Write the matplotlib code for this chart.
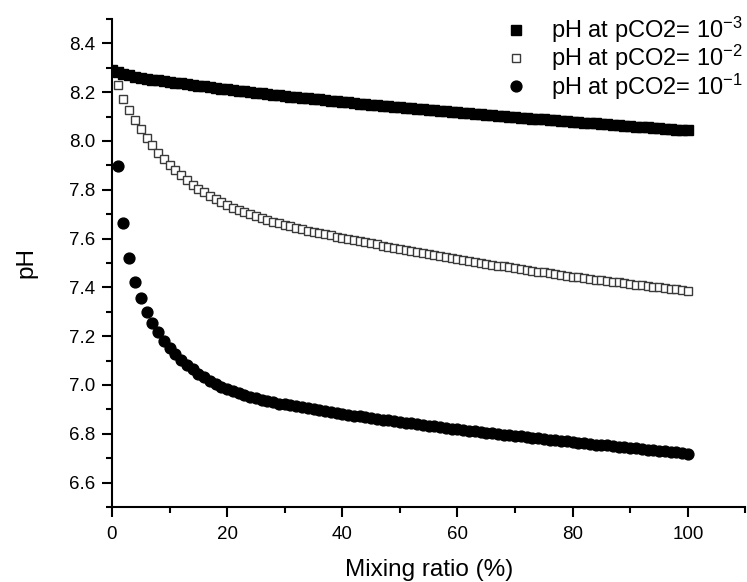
import numpy as np
import matplotlib.pyplot as plt

plt.rcParams['font.family'] = ['Liberation Sans', 'DejaVu Sans']
plt.rcParams['mathtext.fontset'] = 'custom'
plt.rcParams['mathtext.rm'] = 'Liberation Sans'
plt.rcParams['mathtext.it'] = 'Liberation Sans:italic'
plt.rcParams['mathtext.bf'] = 'Liberation Sans:bold'

# Mixing ratio (%) : 0..100 by step of 1
ratio = np.arange(0, 101)

# pH at pCO2 = 1e-3  (0..100)
ph_1e3 = [8.292, 8.282, 8.275, 8.269, 8.264, 8.259, 8.255, 8.251, 8.248, 8.245, 8.242,
          8.239, 8.236, 8.233, 8.230, 8.227, 8.224, 8.221, 8.218, 8.215, 8.212,
          8.209, 8.206, 8.204, 8.201, 8.198, 8.196, 8.193, 8.190, 8.188, 8.185,
          8.182, 8.180, 8.177, 8.175, 8.172, 8.170, 8.167, 8.165, 8.162, 8.160,
          8.158, 8.156, 8.153, 8.151, 8.149, 8.147, 8.145, 8.142, 8.140, 8.138,
          8.136, 8.134, 8.132, 8.130, 8.128, 8.125, 8.123, 8.121, 8.119, 8.117,
          8.115, 8.113, 8.111, 8.109, 8.107, 8.106, 8.104, 8.102, 8.100, 8.098,
          8.096, 8.094, 8.092, 8.090, 8.089, 8.087, 8.085, 8.083, 8.081, 8.079,
          8.077, 8.075, 8.074, 8.072, 8.070, 8.068, 8.066, 8.065, 8.063, 8.061,
          8.059, 8.058, 8.056, 8.054, 8.053, 8.051, 8.049, 8.047, 8.046, 8.044]

# pH at pCO2 = 1e-2  (1..100)
ph_1e2 = [8.229, 8.171, 8.126, 8.085, 8.048, 8.013, 7.982, 7.952, 7.927, 7.903,
          7.880, 7.859, 7.839, 7.821, 7.804, 7.789, 7.775, 7.761, 7.748, 7.736,
          7.726, 7.717, 7.708, 7.699, 7.691, 7.683, 7.676, 7.669, 7.663, 7.657,
          7.651, 7.645, 7.639, 7.633, 7.628, 7.623, 7.618, 7.613, 7.608, 7.603,
          7.598, 7.594, 7.589, 7.585, 7.580, 7.576, 7.571, 7.567, 7.562, 7.558,
          7.554, 7.550, 7.545, 7.541, 7.537, 7.533, 7.529, 7.524, 7.520, 7.516,
          7.512, 7.508, 7.505, 7.501, 7.497, 7.493, 7.489, 7.486, 7.482, 7.478,
          7.475, 7.471, 7.468, 7.464, 7.461, 7.458, 7.454, 7.451, 7.447, 7.444,
          7.441, 7.438, 7.435, 7.432, 7.429, 7.426, 7.423, 7.420, 7.417, 7.414,
          7.411, 7.409, 7.406, 7.403, 7.401, 7.398, 7.395, 7.392, 7.390, 7.387]

# pH at pCO2 = 1e-1  (1..100)
ph_1e1 = [7.896, 7.664, 7.520, 7.424, 7.356, 7.300, 7.256, 7.216, 7.182, 7.152,
          7.127, 7.104, 7.083, 7.064, 7.047, 7.031, 7.017, 7.004, 6.993, 6.983,
          6.974, 6.966, 6.958, 6.951, 6.945, 6.939, 6.934, 6.929, 6.924, 6.920,
          6.916, 6.912, 6.908, 6.904, 6.900, 6.896, 6.892, 6.888, 6.885, 6.881,
          6.878, 6.874, 6.871, 6.868, 6.865, 6.861, 6.858, 6.855, 6.852, 6.849,
          6.846, 6.843, 6.840, 6.837, 6.833, 6.830, 6.827, 6.824, 6.821, 6.818,
          6.815, 6.812, 6.810, 6.807, 6.804, 6.802, 6.799, 6.796, 6.794, 6.791,
          6.789, 6.786, 6.784, 6.781, 6.779, 6.776, 6.774, 6.771, 6.769, 6.766,
          6.764, 6.761, 6.759, 6.756, 6.754, 6.752, 6.749, 6.747, 6.744, 6.742,
          6.740, 6.737, 6.735, 6.733, 6.731, 6.728, 6.726, 6.724, 6.721, 6.719]

labels = [r'pH at pCO2= 10$^{\mathregular{-3}}$',
          r'pH at pCO2= 10$^{\mathregular{-2}}$',
          r'pH at pCO2= 10$^{\mathregular{-1}}$']

fig = plt.figure(figsize=(7.47, 5.82), dpi=100)
ax = fig.add_axes([0.1499, 0.1289, 0.848, 0.8385])

ax.plot(ratio, ph_1e3, 's', color='black', ms=7.4, mec='black', label=labels[0])
ax.plot(ratio[1:], ph_1e2, 's', mfc='white', mec='#3a3a3a', mew=1.0, ms=6.2, label=labels[1])
ax.plot(ratio[1:], ph_1e1, 'o', color='black', ms=7.8, label=labels[2])

ax.set_xlim(0, 110)
ax.set_ylim(6.5, 8.5)
ax.set_xticks([0, 20, 40, 60, 80, 100])
ax.set_xticks(np.arange(10, 111, 20), minor=True)
ax.set_yticks(np.arange(6.6, 8.41, 0.2))
ax.set_yticks(np.arange(6.5, 8.51, 0.2), minor=True)
ax.yaxis.set_major_formatter(plt.FormatStrFormatter('%.1f'))

for s in ['top', 'right']:
    ax.spines[s].set_visible(False)
for s in ['left', 'bottom']:
    ax.spines[s].set_linewidth(1.5)
ax.tick_params(which='major', direction='out', length=7, width=1.5, labelsize=13.5, pad=5)
ax.tick_params(axis='x', which='major', pad=7)
ax.tick_params(which='minor', direction='out', length=4, width=1.5)

ax.set_xlabel('Mixing ratio (%)', fontsize=17.5, labelpad=11)
ax.set_ylabel('pH', fontsize=17.5, labelpad=23)

fig.legend(loc='upper left', bbox_to_anchor=(0.678, 0.9745), frameon=False,
           fontsize=17, handlelength=0.8, handletextpad=1.1, labelspacing=-0.08,
           borderpad=0, borderaxespad=0)

fig.savefig('out.png', dpi=100)
